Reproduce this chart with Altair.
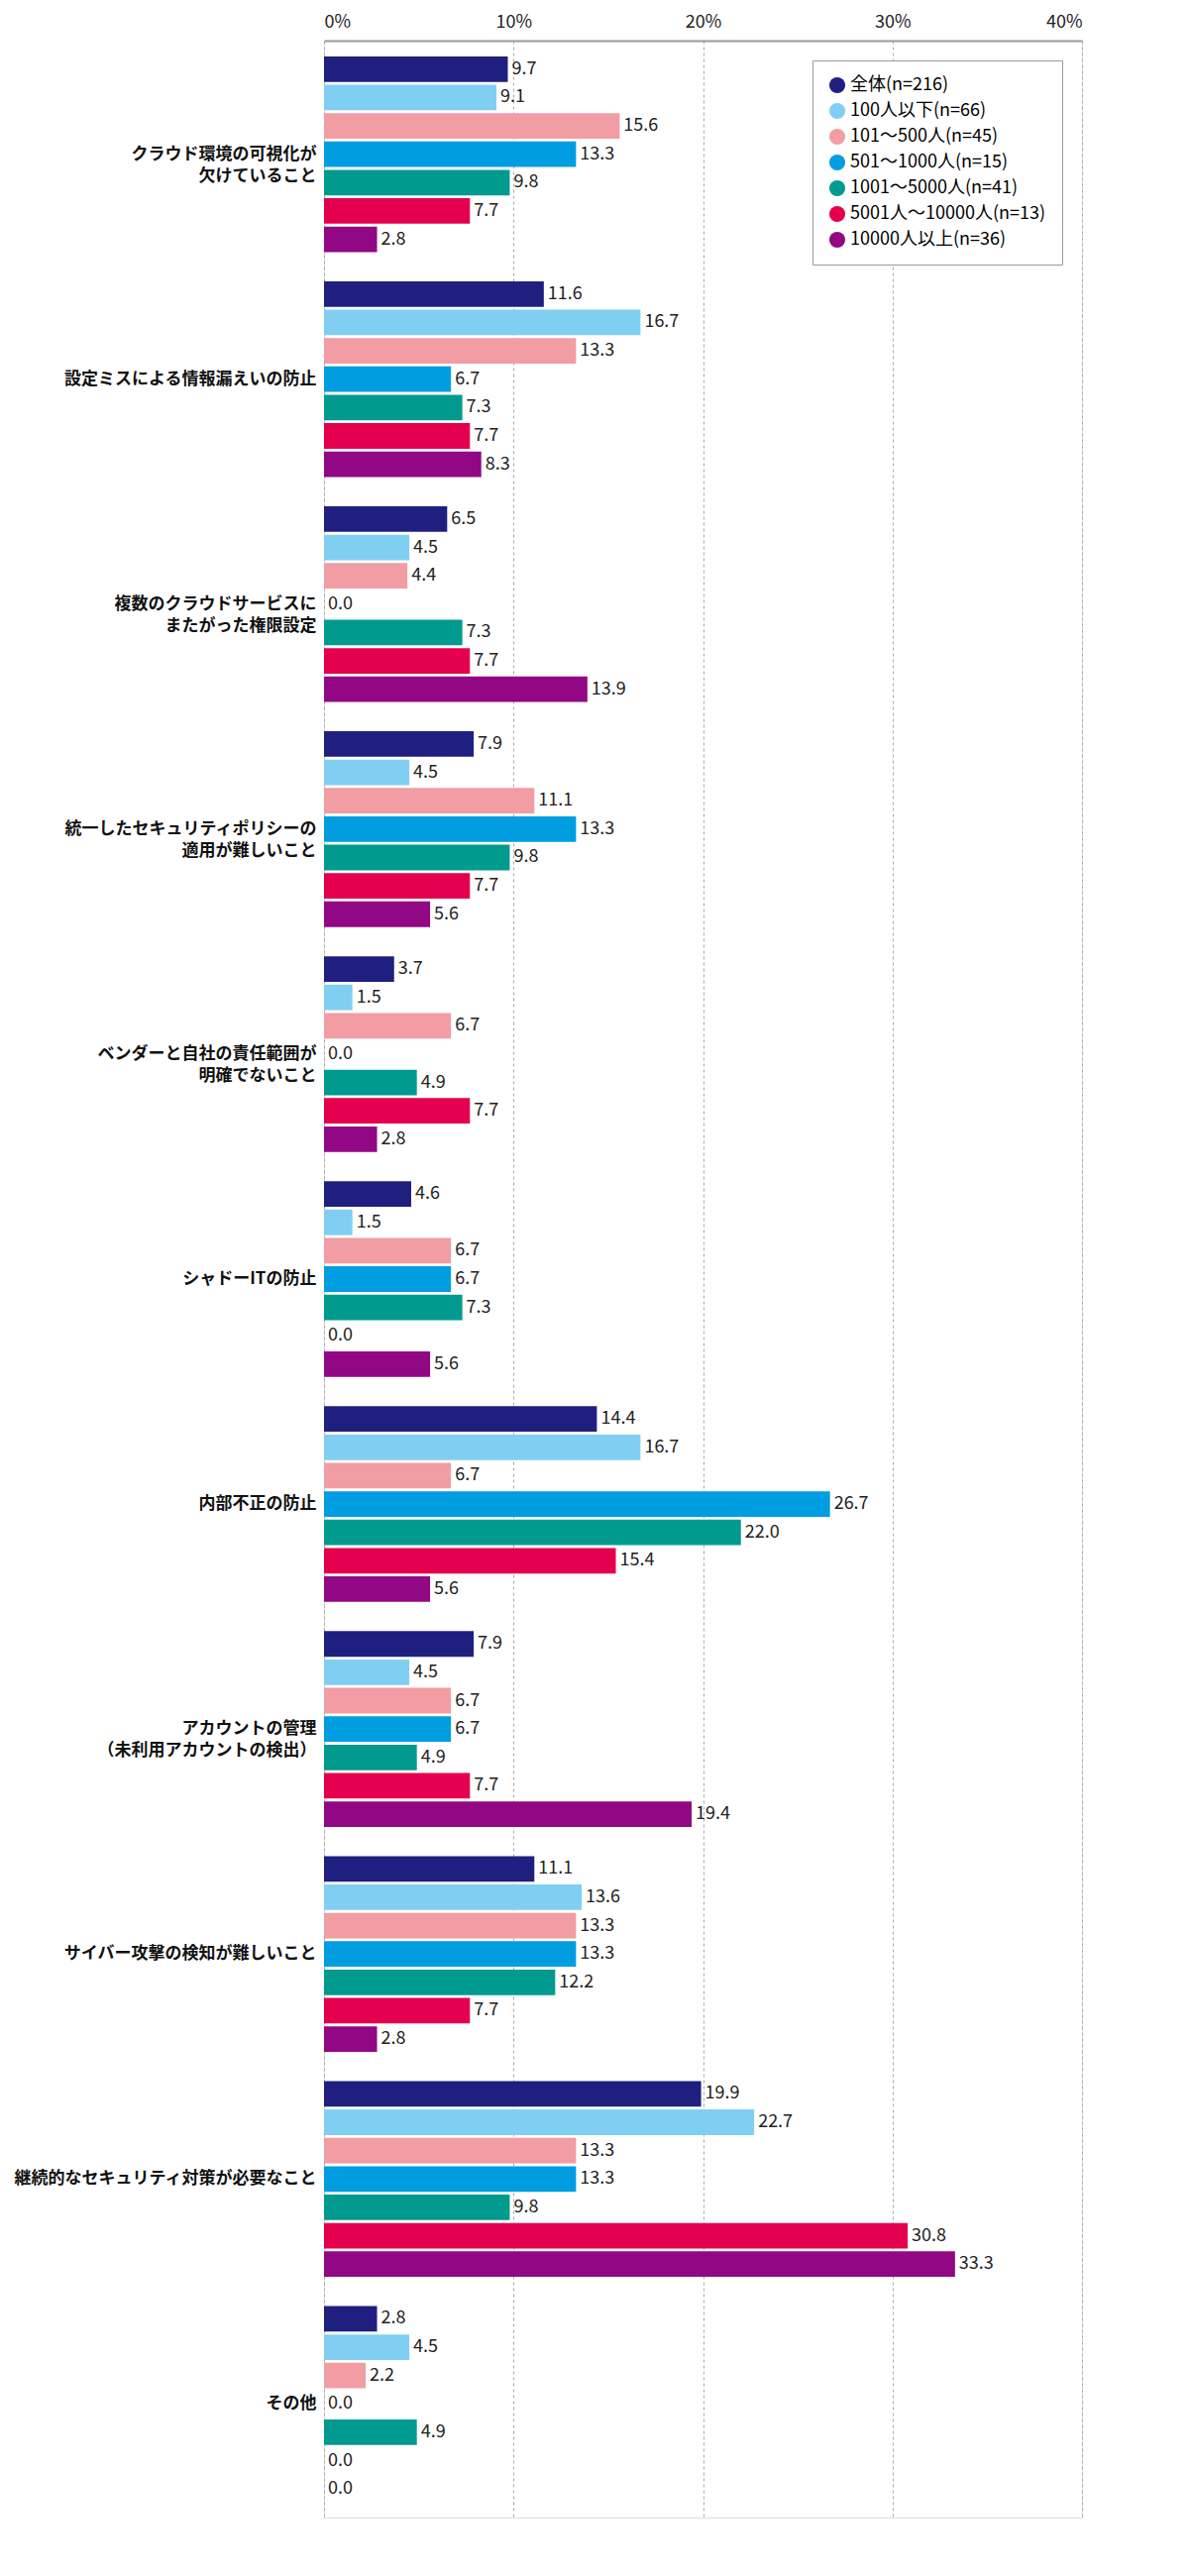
import altair as alt
import pandas as pd

categories = [
    "クラウド環境の可視化が\n欠けていること",
    "設定ミスによる情報漏えいの防止",
    "複数のクラウドサービスに\nまたがった権限設定",
    "統一したセキュリティポリシーの\n適用が難しいこと",
    "ベンダーと自社の責任範囲が\n明確でないこと",
    "シャドーITの防止",
    "内部不正の防止",
    "アカウントの管理\n（未利用アカウントの検出）",
    "サイバー攻撃の検知が難しいこと",
    "継続的なセキュリティ対策が必要なこと",
    "その他",
]
series = ["全体(n=216)", "100人以下(n=66)", "101～500人(n=45)", "501～1000人(n=15)",
          "1001～5000人(n=41)", "5001人～10000人(n=13)", "10000人以上(n=36)"]
colors = ["#1f1f80", "#80cff2", "#f29ca3", "#009de0", "#009a8f", "#e5004f", "#920783"]

values = [
    [9.7, 11.6, 6.5, 7.9, 3.7, 4.6, 14.4, 7.9, 11.1, 19.9, 2.8],
    [9.1, 16.7, 4.5, 4.5, 1.5, 1.5, 16.7, 4.5, 13.6, 22.7, 4.5],
    [15.6, 13.3, 4.4, 11.1, 6.7, 6.7, 6.7, 6.7, 13.3, 13.3, 2.2],
    [13.3, 6.7, 0.0, 13.3, 0.0, 6.7, 26.7, 6.7, 13.3, 13.3, 0.0],
    [9.8, 7.3, 7.3, 9.8, 4.9, 7.3, 22.0, 4.9, 12.2, 9.8, 4.9],
    [7.7, 7.7, 7.7, 7.7, 7.7, 0.0, 15.4, 7.7, 7.7, 30.8, 0.0],
    [2.8, 8.3, 13.9, 5.6, 2.8, 5.6, 5.6, 19.4, 2.8, 33.3, 0.0],
]

rows = []
for s, vals in zip(series, values):
    for c, v in zip(categories, vals):
        rows.append({"cat": c, "series": s, "value": v, "label": f"{v:.1f}"})
df = pd.DataFrame(rows)

font = "Noto Sans CJK JP"
y = alt.Y("cat:N", sort=categories, title=None,
          scale=alt.Scale(paddingInner=0.13, paddingOuter=0.07),
          axis=alt.Axis(labelExpr="split(datum.label, '\\n')", labelFontWeight="bold",
                        labelFontSize=17, labelColor="#111", ticks=False, domain=False,
                        labelPadding=8, labelLineHeight=22, labelLimit=400))
yoff = alt.YOffset("series:N", sort=series, scale=alt.Scale(paddingInner=0.1))

bars = alt.Chart(df).mark_bar().encode(
    x=alt.X("value:Q", scale=alt.Scale(domain=[0, 40]), title=None,
            axis=alt.Axis(orient="top", values=[0, 10, 20, 30, 40],
                          labelExpr="datum.value + '%'", labelFontSize=18,
                          labelColor="#222", grid=True, gridDash=[3, 3],
                          gridColor="#aaa", ticks=False, domainColor="#999",
                          domainWidth=2, labelPadding=10)),
    y=y, yOffset=yoff,
    color=alt.Color("series:N", sort=series,
                    scale=alt.Scale(domain=series, range=colors),
                    legend=alt.Legend(title=None, orient="top-right", symbolType="circle",
                                      symbolSize=260, symbolOpacity=1, labelFontSize=18,
                                      labelLimit=400, rowPadding=8, padding=16,
                                      strokeColor="#999", fillColor="white", offset=20)),
)

text = alt.Chart(df).mark_text(align="left", dx=4, fontSize=18, color="#222").encode(
    x="value:Q", y=y, yOffset=yoff, text="label:N")

chart = (bars + text).properties(
    width=765, height=2500,
).configure_view(stroke="#999", strokeWidth=1.5).configure(font=font)

chart.save("out.html", embed_options={"renderer": "svg", "actions": False})
